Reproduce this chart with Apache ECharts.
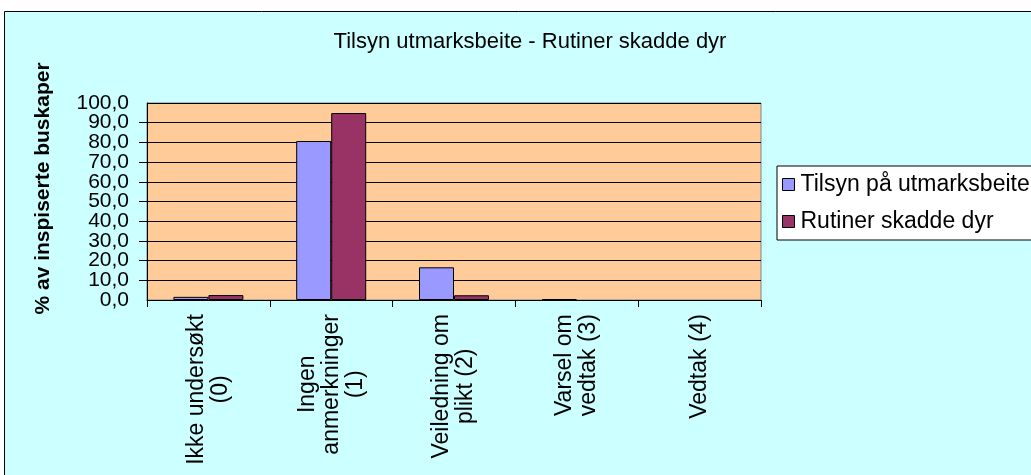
<!DOCTYPE html>
<html>
<head>
<meta charset="utf-8">
<script src="https://cdn.jsdelivr.net/npm/echarts@6/dist/echarts.min.js"></script>
<style>
html, body { margin: 0; padding: 0; background: #fff; }
#chart { width: 1031px; height: 475px; }
</style>
</head>
<body>
<div id="chart"></div>
<script>
var categories = ['Ikke undersøkt\n(0)', 'Ingen\nanmerkninger\n(1)', 'Veiledning om\nplikt (2)', 'Varsel om\nvedtak (3)', 'Vedtak (4)'];
var tilsynValues = [1.6, 80.7, 16.6, 0.5, 0];
var rutinerValues = [2.5, 94.9, 2.4, 0, 0];
var seriesNames = ['Tilsyn på utmarksbeite', 'Rutiner skadde dyr'];
var titleText = 'Tilsyn utmarksbeite - Rutiner skadde dyr';
var yAxisTitle = '% av inspiserte buskaper';

var font = "'Liberation Sans', Arial, sans-serif";

// zero-height bars get no outline (Excel draws nothing for 0)
function barData(values) {
    return values.map(function (v) {
        return v === 0 ? { value: v, itemStyle: { borderWidth: 0 } } : v;
    });
}

function pct(v) { return v.toFixed(1).replace('.', ','); }

var yLabelStyle = { fontFamily: font, fontSize: 21, color: '#000', margin: 18 };

var myChart = echarts.init(document.getElementById('chart'));
var option = {
    animation: false,
    textStyle: { fontFamily: font },
    color: ['#9999FF', '#993366'],
    graphic: [
        {
            type: 'rect',
            z: -10,
            shape: { x: 4.5, y: 11.5, width: 1100, height: 500 },
            style: { fill: '#CCFFFF', stroke: '#000', lineWidth: 1 }
        },
        {
            type: 'text',
            x: 530,
            y: 42,
            style: {
                text: titleText,
                fontFamily: font,
                fontSize: 22,
                fill: '#000',
                textAlign: 'center',
                textVerticalAlign: 'middle'
            }
        }
    ],
    legend: {
        orient: 'vertical',
        left: 777,
        top: 166,
        padding: [7, 10, 7, 5],
        itemGap: 14,
        itemWidth: 12,
        itemHeight: 12,
        icon: 'rect',
        backgroundColor: '#fff',
        borderColor: '#000',
        borderWidth: 1,
        itemStyle: { borderColor: '#000', borderWidth: 1 },
        textStyle: { fontFamily: font, fontSize: 23, color: '#000', padding: [0, 0, 0, 1] },
        data: seriesNames
    },
    grid: {
        left: 147,
        right: 270,
        top: 103,
        bottom: 175,
        show: true,
        backgroundColor: '#FFCC99',
        borderColor: '#808080',
        borderWidth: 1
    },
    xAxis: {
        type: 'category',
        data: categories,
        axisLine: { lineStyle: { color: '#000', width: 1 } },
        axisTick: { show: true, length: 7, lineStyle: { color: '#000' } },
        axisLabel: {
            rotate: 90,
            margin: 14,
            interval: 0,
            color: '#000',
            formatter: function (value) {
                return value.split('\n').map(function (s) { return '{a|' + s + '}'; }).join('\n');
            },
            rich: {
                a: { fontFamily: font, fontSize: 23, lineHeight: 24, align: 'center', color: '#000' }
            }
        }
    },
    yAxis: [
        {
            type: 'value',
            min: 0,
            max: 100,
            interval: 10,
            name: yAxisTitle,
            nameLocation: 'middle',
            nameRotate: 90,
            nameGap: 93,
            nameTextStyle: { fontFamily: font, fontSize: 21, fontWeight: 'bold', color: '#000', padding: [0, 0, 0, 26] },
            axisLine: { show: true, lineStyle: { color: '#000', width: 1 } },
            axisTick: { show: true, length: 8, lineStyle: { color: '#000' } },
            axisLabel: Object.assign({ showMinLabel: false, showMaxLabel: false, formatter: pct }, yLabelStyle),
            splitLine: { show: true, lineStyle: { color: '#000', width: 1 } }
        },
        {
            // second axis on the same side only carries the 0,0 and 100,0 labels
            type: 'value',
            position: 'left',
            min: 0,
            max: 100,
            interval: 100,
            axisLine: { show: false },
            axisTick: { show: false },
            splitLine: { show: false },
            axisLabel: Object.assign({ formatter: pct }, yLabelStyle)
        }
    ],
    series: [
        {
            name: seriesNames[0],
            type: 'bar',
            data: barData(tilsynValues),
            barGap: '0%',
            barCategoryGap: '43%',
            itemStyle: { borderColor: '#000', borderWidth: 1 }
        },
        {
            name: seriesNames[1],
            type: 'bar',
            data: barData(rutinerValues),
            barGap: '0%',
            barCategoryGap: '43%',
            itemStyle: { borderColor: '#000', borderWidth: 1 }
        }
    ]
};
myChart.setOption(option);
</script>
</body>
</html>
